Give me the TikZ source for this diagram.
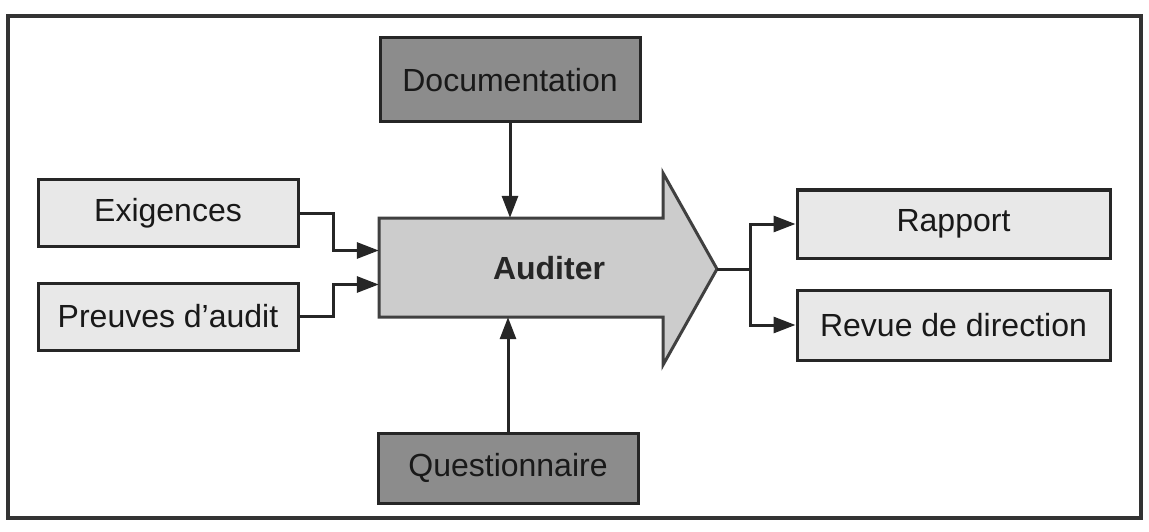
\documentclass[tikz,border=0pt]{standalone}
\usepackage{fontspec}
\setmainfont{Liberation Sans}
\usetikzlibrary{arrows.meta}
\begin{document}
\begin{tikzpicture}[x=1pt,y=-1pt,
  box/.style={draw=black!85, line width=3pt, inner sep=0pt, font=\fontsize{32}{38}\selectfont, text=black!90},
  darkbox/.style={box, fill=black!45},
  lightbox/.style={box, fill=black!9},
  conn/.style={draw=black!85, line width=3pt, -{Triangle[length=22pt,width=16pt]}}]
\useasboundingbox (0,0) rectangle (1149,532);
\draw[line width=4pt, black!80] (8,16) rectangle (1141,518);
% main arrow
\draw[line width=3pt, draw=black!75, fill=black!20, line join=miter]
  (379,218) -- (663,218) -- (663,173) -- (717,269) -- (663,365) -- (663,317) -- (379,317) -- cycle;
\node[minimum width=284, minimum height=99, inner sep=0pt] (audbody) at (521,267.5) {};
\coordinate (tip) at (717,269);
\node[font=\fontsize{32}{38}\selectfont\bfseries, text=black!85] (auditer) at (549,268) {Auditer};
% boxes
\node[darkbox, minimum width=260, minimum height=84] (doc) at (510,80) {Documentation};
\node[darkbox, minimum width=260, minimum height=70] (q) at (508,468) {Questionnaire};
\node[lightbox, minimum width=260, minimum height=66] (exi) at (168,213) {Exigences};
\node[lightbox, minimum width=260, minimum height=67] (pre) at (168,316.5) {Preuves d'audit};
\node[lightbox, minimum width=313, minimum height=68] (rap) at (953.5,224) {Rapport};
\node[lightbox, minimum width=313, minimum height=70] (rev) at (953.5,325) {Revue de direction};
% connectors
\draw[conn] (exi.east) -- ++(34,0) |- ([yshift=17pt]audbody.west);
\draw[conn] (pre.east) -- ++(34,0) |- ([yshift=-17pt]audbody.west);
\draw[conn] (doc.south) -- (doc.south |- audbody.north);
\draw[conn] (q.north) -- (q.north |- audbody.south);
\draw[conn] (tip) -- ++(33,0) |- (rap.west);
\draw[conn] (tip) -- ++(33,0) |- (rev.west);
\end{tikzpicture}
\end{document}
